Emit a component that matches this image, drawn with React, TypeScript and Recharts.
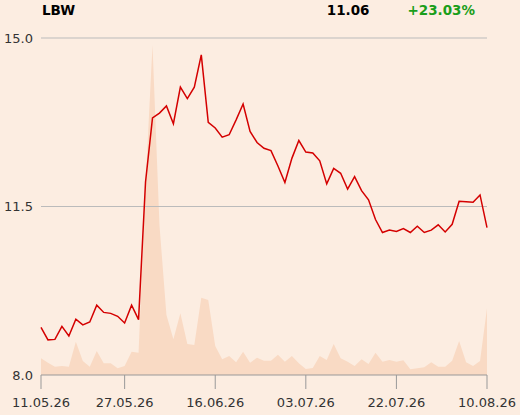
import React from 'react';
import {
  ComposedChart,
  Area,
  Line,
  XAxis,
  YAxis,
  ReferenceLine,
} from 'recharts';

// Trading days, 11.05.26 - 10.08.26
const dates = [
  '11.05.26', '12.05.26', '13.05.26', '14.05.26', '15.05.26',
  '18.05.26', '19.05.26', '20.05.26', '21.05.26', '22.05.26',
  '25.05.26', '26.05.26', '27.05.26', '28.05.26', '29.05.26',
  '01.06.26', '02.06.26', '03.06.26', '05.06.26',
  '08.06.26', '09.06.26', '10.06.26', '11.06.26', '12.06.26',
  '15.06.26', '16.06.26', '17.06.26', '18.06.26', '19.06.26',
  '22.06.26', '23.06.26', '24.06.26', '25.06.26', '26.06.26',
  '29.06.26', '30.06.26', '01.07.26', '02.07.26', '03.07.26',
  '06.07.26', '07.07.26', '08.07.26', '09.07.26', '10.07.26',
  '13.07.26', '14.07.26', '15.07.26', '16.07.26', '17.07.26',
  '20.07.26', '21.07.26', '22.07.26', '23.07.26', '24.07.26',
  '27.07.26', '28.07.26', '29.07.26', '30.07.26', '31.07.26',
  '03.08.26', '04.08.26', '05.08.26', '06.08.26', '07.08.26',
  '10.08.26',
];

// Closing prices
const prices = [
  8.99, 8.73, 8.74, 9.01, 8.81, 9.16, 9.04, 9.10, 9.45, 9.30,
  9.28, 9.22, 9.08, 9.45, 9.15, 12.01, 13.34, 13.44, 13.59, 13.22,
  13.98, 13.74, 13.98, 14.65, 13.25, 13.13, 12.94, 12.99, 13.30, 13.63,
  13.06, 12.83, 12.71, 12.66, 12.34, 12.00, 12.50, 12.87, 12.63, 12.61,
  12.45, 11.97, 12.29, 12.19, 11.86, 12.12, 11.83, 11.64, 11.23, 10.96,
  11.01, 10.98, 11.04, 10.96, 11.09, 10.96, 11.01, 11.12, 10.97, 11.13,
  11.61, 11.60, 11.59, 11.74, 11.06,
];

// Traded volume (thousand shares)
const volumes = [
  16.7, 12.3, 8.3, 9, 8.3, 33.3, 14, 8.3, 24, 11.7,
  11.7, 6.7, 9, 23.3, 22.3, 190, 330, 150, 60, 35.7,
  61.7, 31, 30, 77.3, 75, 29, 15.7, 19, 12.7, 23.3,
  12.3, 17.3, 14.3, 14.3, 20.3, 13.3, 19, 11.7, 6, 7,
  19, 15, 31, 16.7, 13.3, 9, 15.7, 11, 22.3, 13.3,
  15, 13.3, 14.7, 5.7, 6.7, 7.7, 12.7, 8.3, 8.3, 14.3,
  34, 12.7, 9, 14, 66.7,
];

const xTicks = ['11.05.26', '27.05.26', '16.06.26', '03.07.26', '22.07.26', '10.08.26'];
const yTicks = [8, 11.5, 15];

const data = dates.map((date, i) => ({
  date,
  price: prices[i],
  volume: volumes[i],
}));

const BG = '#fcede1';
const FONT = '"DejaVu Sans", sans-serif';

export default function App() {
  return (
    <div
      style={{
        position: 'absolute',
        left: 0,
        top: 0,
        width: 520,
        height: 415,
        background: BG,
        fontFamily: FONT,
      }}
    >
      <svg width={520} height={30} style={{ position: 'absolute', left: 0, top: 0 }}>
        <text x={42} y={14.5} fontSize={13.5} fontWeight="bold" fill="#000" fontFamily={FONT}>
          LBW
        </text>
        <text x={369.5} y={14.5} fontSize={13.5} fontWeight="bold" fill="#000" textAnchor="end" fontFamily={FONT}>
          11.06
        </text>
        <text x={475} y={14.5} fontSize={13.5} fontWeight="bold" fill="#1a9e1a" textAnchor="end" fontFamily={FONT}>
          +23.03%
        </text>
      </svg>
      <ComposedChart
        width={520}
        height={415}
        data={data}
        margin={{ top: 38, right: 33, left: 0, bottom: 0 }}
      >
        <XAxis
          dataKey="date"
          ticks={xTicks}
          interval={0}
          height={40}
          tickSize={14}
          tickMargin={9}
          stroke="#999"
          tick={{ fill: '#333', fontSize: 13, fontFamily: FONT }}
        />
        <YAxis
          yAxisId="price"
          domain={[8, 15]}
          ticks={yTicks}
          width={41}
          axisLine={false}
          tickLine={false}
          tickFormatter={(v: number) => v.toFixed(1)}
          tick={{ fill: '#333', fontSize: 13, fontFamily: FONT }}
        />
        <YAxis yAxisId="vol" hide domain={[0, 337]} />
        <Area
          yAxisId="vol"
          type="linear"
          dataKey="volume"
          stroke="none"
          fill="#f9dac4"
          fillOpacity={1}
          isAnimationActive={false}
        />
        <ReferenceLine yAxisId="price" y={15} stroke="#bbb" />
        <ReferenceLine yAxisId="price" y={11.5} stroke="#bbb" />
        <Line
          yAxisId="price"
          type="linear"
          dataKey="price"
          stroke="#d40000"
          strokeWidth={1.5}
          dot={false}
          isAnimationActive={false}
        />
      </ComposedChart>
    </div>
  );
}
